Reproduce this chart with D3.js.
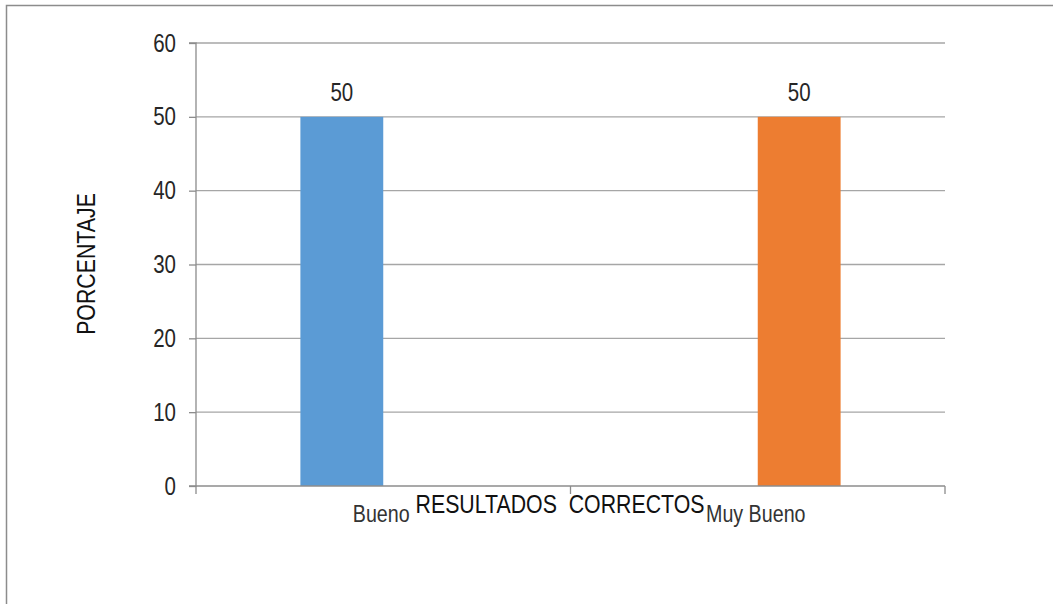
<!DOCTYPE html>
<html><head><meta charset="utf-8">
<script src="https://cdn.jsdelivr.net/npm/d3@7"></script>
<style>
html,body{margin:0;padding:0;background:#fff;}
text{font-family:"Liberation Sans",Arial,sans-serif;}
</style></head>
<body><svg id="c" width="1053" height="604"></svg>
<script>
const categories = ["Bueno", "Muy Bueno"];
const seriesNames = ["Bueno", "Muy Bueno"];
const seriesBueno = [50, 0];
const seriesMuyBueno = [0, 50];
const yTicks = [0, 10, 20, 30, 40, 50, 60];
const colors = ["#5b9bd5", "#ed7d31"];
const xTitle = "RESULTADOS  CORRECTOS";
const yTitle = "PORCENTAJE";
const NARROW = 0.82;

const svg = d3.select("#c");
// outer frame
svg.append("path").attr("d","M6.5,604 V5.5 H1053").attr("fill","none").attr("stroke","#8c8c8c").attr("stroke-width",1.5);

const L=196, R=945, T=43, B=486;
const x = d3.scaleBand().domain(categories).range([L,R]);
const xi = d3.scaleBand().domain(seriesNames).range([0,x.bandwidth()]).paddingOuter(1.26);
const y = d3.scaleLinear().domain([0,60]).range([B,T]);

// gridlines
svg.append("g").selectAll("line").data(yTicks.filter(d=>d>0)).join("line")
  .attr("x1",L).attr("x2",R).attr("y1",d=>y(d)).attr("y2",d=>y(d))
  .attr("stroke","#a6a6a6").attr("stroke-width",1.3);

const seriesData = [seriesBueno, seriesMuyBueno];
const bars = [];
seriesData.forEach((vals,si)=>vals.forEach((v,ci)=>bars.push({s:seriesNames[si],c:categories[ci],v,si})));
svg.append("g").selectAll("rect").data(bars.filter(b=>b.v>0)).join("rect")
  .attr("x",d=>x(d.c)+xi(d.s)).attr("width",xi.bandwidth())
  .attr("y",d=>y(d.v)).attr("height",d=>y(0)-y(d.v))
  .attr("fill",d=>colors[d.si]);

// data labels
svg.append("g").selectAll("text").data(bars.filter(b=>b.v>0)).join("text")
  .attr("transform",d=>`translate(${x(d.c)+xi(d.s)+xi.bandwidth()/2},${y(d.v)-16}) scale(${NARROW},1)`)
  .attr("text-anchor","middle").attr("font-size",25).attr("fill","#262626")
  .text(d=>d.v);

// y axis
const ya = d3.axisLeft(y).tickValues(yTicks).tickSize(7).tickPadding(9);
const gy = svg.append("g").attr("transform",`translate(${L},0)`).call(ya);
gy.selectAll("path,line").attr("stroke","#8c8c8c").attr("stroke-width",1.3);
gy.select(".domain").attr("d",`M-7,${T}H0V${B}H-7`);
gy.selectAll("text").attr("x",null).attr("transform",`translate(-20,0) scale(${NARROW},1)`)
  .attr("font-size",25).attr("fill","#262626").attr("font-family",null);

// x axis
svg.append("line").attr("x1",L).attr("x2",R).attr("y1",B).attr("y2",B).attr("stroke","#8c8c8c").attr("stroke-width",1.3);
const xb = [L, ...categories.map(c=>x(c)+x.bandwidth())];
svg.append("g").selectAll("line").data(xb).join("line")
  .attr("x1",d=>d).attr("x2",d=>d).attr("y1",B).attr("y2",B+8)
  .attr("stroke","#8c8c8c").attr("stroke-width",1.3);
svg.append("g").selectAll("text").data(categories).join("text")
  .attr("transform",d=>`translate(${x(d)+x.bandwidth()/2-2},522) scale(${NARROW},1)`)
  .attr("text-anchor","middle").attr("font-size",24).attr("fill","#333")
  .text(d=>d);

svg.append("text").attr("transform",`translate(560,513) scale(${NARROW},1)`).attr("text-anchor","middle")
  .attr("font-size",26).attr("fill","#111").style("white-space","pre").text(xTitle);
svg.append("text").attr("transform",`translate(95,264) rotate(-90) scale(${NARROW},1)`).attr("text-anchor","middle")
  .attr("font-size",26).attr("fill","#111").text(yTitle);
</script></body></html>
